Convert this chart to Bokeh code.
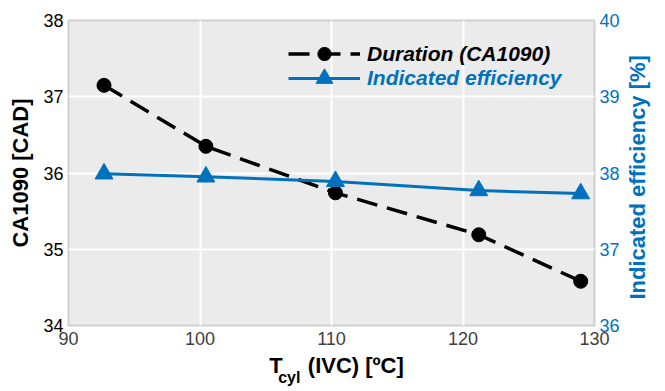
import math
from bokeh.plotting import figure
from bokeh.models import (Range1d, LinearAxis, FixedTicker, Legend, LegendItem)
from bokeh.embed import file_html
from bokeh.resources import INLINE

# ---- data ----
t_cyl = [92.7, 100.45, 110.3, 121.2, 128.95]
duration_ca1090 = [37.15, 36.35, 35.74, 35.19, 34.58]
indicated_eff = [37.99, 37.95, 37.89, 37.77, 37.73]
x_ticks = [90, 100, 110, 120, 130]
y_left_ticks = [34, 35, 36, 37, 38]
y_right_ticks = [36, 37, 38, 39, 40]

# axis-title pieces anchored along the scales
title_main = {105.78: "T", 111.85: "(IVC) [ºC]"}
title_sub = {106.79: "cyl"}
title_right = {36.34: "Indicated efficiency [%]"}

BLUE = "#0072BD"
FONT = "Liberation Sans"

p = figure(width=665, height=391, x_range=Range1d(90, 130), y_range=Range1d(34, 38),
           output_backend="svg", toolbar_location=None, title=None,
           min_border_left=68, min_border_right=68, min_border_top=20, min_border_bottom=66)
p.extra_y_ranges = {"eff": Range1d(36, 40)}

p.background_fill_color = "#ebebeb"
p.border_fill_color = "white"
p.outline_line_color = "#d0d0d0"
p.outline_line_width = 2

for g in (p.xgrid, p.ygrid):
    g.grid_line_color = "white"
    g.grid_line_width = 2

p.xaxis.ticker = FixedTicker(ticks=x_ticks)
p.yaxis.ticker = FixedTicker(ticks=y_left_ticks)

right = LinearAxis(y_range_name="eff", ticker=FixedTicker(ticks=y_right_ticks))
p.add_layout(right, "right")
right_title = LinearAxis(y_range_name="eff", ticker=FixedTicker(ticks=list(title_right.keys())),
                         major_label_overrides=title_right)
p.add_layout(right_title, "right")

# extra below axes used only to carry the x title text
ax_title = LinearAxis(ticker=FixedTicker(ticks=list(title_main.keys())),
                      major_label_overrides=title_main)
p.add_layout(ax_title, "below")
ax_sub = LinearAxis(ticker=FixedTicker(ticks=list(title_sub.keys())),
                    major_label_overrides=title_sub)
p.add_layout(ax_sub, "below")

for ax in (p.xaxis[0], p.yaxis[0], right, right_title, ax_title, ax_sub):
    ax.axis_line_color = None
    ax.major_tick_line_color = None
    ax.minor_tick_line_color = None
    ax.major_tick_out = 0
    ax.major_tick_in = 0
    ax.major_label_text_font = FONT
    ax.major_label_text_font_size = "18px"
    ax.axis_label_text_font = FONT
    ax.axis_label_text_font_size = "22px"
    ax.axis_label_text_font_style = "bold"

p.xaxis[0].major_label_text_color = "#404040"
p.xaxis[0].major_label_standoff = 6

ax_title.major_label_text_font_size = "22px"
ax_title.major_label_text_font_style = "bold"
ax_title.major_label_text_color = "black"
ax_title.major_label_standoff = 5

ax_sub.major_label_text_font_size = "16px"
ax_sub.major_label_text_font_style = "bold"
ax_sub.major_label_text_color = "black"
ax_sub.major_label_standoff = -12

p.yaxis[0].major_label_text_color = "black"
p.yaxis[0].major_label_standoff = 5
p.yaxis[0].axis_label = "CA1090 [CAD]"
p.yaxis[0].axis_label_text_color = "black"
p.yaxis[0].axis_label_standoff = 7

right.major_label_text_color = BLUE
right.major_label_standoff = 5

right_title.major_label_text_font_size = "22px"
right_title.major_label_text_font_style = "bold"
right_title.major_label_text_color = BLUE
right_title.major_label_orientation = math.pi / 2
right_title.major_label_standoff = 15

# ---- series ----
l1 = p.line(t_cyl, duration_ca1090, line_color="black", line_width=3.5, line_dash="21 10")
m1 = p.scatter(t_cyl, duration_ca1090, marker="circle", size=14, fill_color="black", line_color="black")
l2 = p.line(t_cyl, indicated_eff, line_color=BLUE, line_width=3, y_range_name="eff")
m2 = p.scatter(t_cyl, indicated_eff, marker="triangle", size=18, fill_color=BLUE, line_color=BLUE,
               y_range_name="eff")

def make_legend(label, renderers, color, loc, gh):
    lg = Legend(items=[LegendItem(label=label, renderers=renderers)], location=loc,
                orientation="vertical", padding=0, margin=0, spacing=0,
                glyph_width=72, glyph_height=gh, label_height=20, label_standoff=7,
                label_text_font=FONT, label_text_font_size="21px",
                label_text_font_style="bold italic", label_text_color=color,
                background_fill_alpha=0, border_line_color=None)
    p.add_layout(lg, "center")

make_legend("Duration (CA1090)", [l1, m1], "black", (220, 255), 33)
make_legend("Indicated efficiency", [l2, m2], BLUE, (220, 226), 42)

open("out.html", "w").write(file_html(p, INLINE))
